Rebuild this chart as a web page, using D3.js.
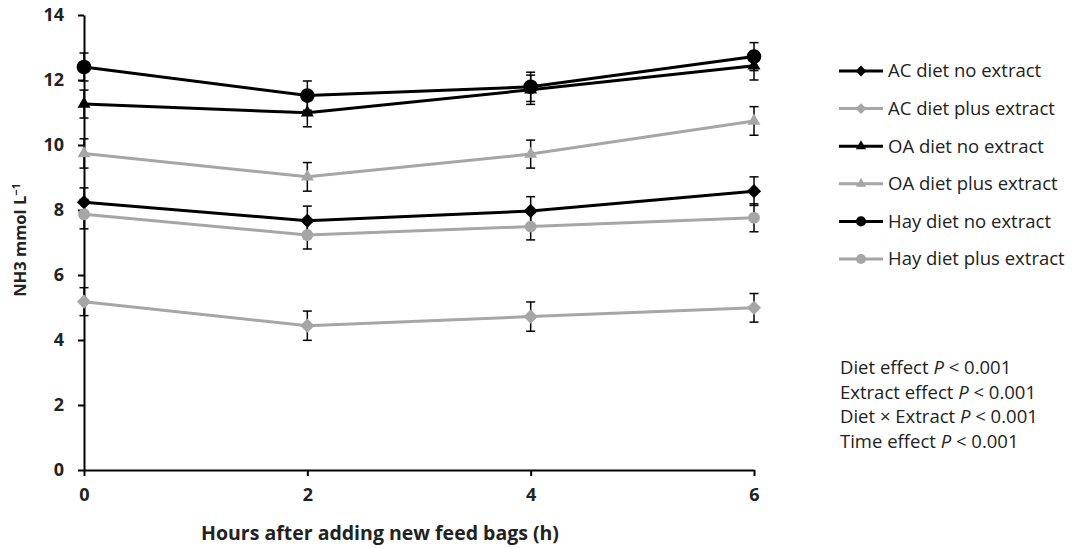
<!DOCTYPE html>
<html>
<head>
<meta charset="utf-8">
<script src="https://cdn.jsdelivr.net/npm/d3@7"></script>
<style>
  body { margin: 0; background: #fff; }
  text { font-family: "Open Sans", "DejaVu Sans", sans-serif; fill: #222; }
</style>
</head>
<body>
<div id="chart"></div>
<script>
// hours after adding feed bags
var hours = [0, 2, 4, 6];
var yTicks = [0, 2, 4, 6, 8, 10, 12, 14];

var seriesNames = ["AC diet no extract", "AC diet plus extract", "OA diet no extract",
                   "OA diet plus extract", "Hay diet no extract", "Hay diet plus extract"];
var seriesColors = ["#000000", "#a6a6a6", "#000000", "#a6a6a6", "#000000", "#a6a6a6"];
var seriesShapes = ["diamond", "diamond", "triangle", "triangle", "circle", "circle"];

// NH3 means per series (mmol/L)
var acNo    = [8.24, 7.67, 7.97, 8.58];
var acPlus  = [5.18, 4.44, 4.72, 4.99];
var oaNo    = [11.26, 10.99, 11.70, 12.44];
var oaPlus  = [9.74, 9.02, 9.72, 10.74];
var hayNo   = [12.40, 11.52, 11.79, 12.72];
var hayPlus = [7.87, 7.23, 7.49, 7.76];

// standard errors
var acNoSe    = [0.44, 0.45, 0.44, 0.44];
var acPlusSe  = [0.43, 0.45, 0.45, 0.44];
var oaNoSe    = [0.43, 0.43, 0.45, 0.44];
var oaPlusSe  = [0.45, 0.44, 0.43, 0.44];
var hayNoSe   = [0.43, 0.45, 0.45, 0.43];
var hayPlusSe = [0.45, 0.43, 0.41, 0.43];

var statLines = [["Diet effect ", "P", " < 0.001"],
                 ["Extract effect ", "P", " < 0.001"],
                 ["Diet \u00d7 Extract ", "P", " < 0.001"],
                 ["Time effect ", "P", " < 0.001"]];

var allMeans = [acNo, acPlus, oaNo, oaPlus, hayNo, hayPlus];
var allSe = [acNoSe, acPlusSe, oaNoSe, oaPlusSe, hayNoSe, hayPlusSe];

var series = seriesNames.map(function(name, i) {
  return {
    name: name, color: seriesColors[i], shape: seriesShapes[i],
    points: hours.map(function(h, j) { return {x: h, y: allMeans[i][j], se: allSe[i][j]}; })
  };
});

var W = 1077, H = 548;
var margin = {top: 15, left: 84, right: 323, bottom: 78};

var xScale = d3.scaleLinear().domain([0, 6]).range([margin.left, W - margin.right]);
var yScale = d3.scaleLinear().domain([0, 14]).range([H - margin.bottom, margin.top]);

var svg = d3.select("#chart").append("svg")
    .attr("width", W)
    .attr("height", H);

// axes
var xAxis = svg.append("g")
    .attr("transform", "translate(0," + yScale(0) + ")")
    .call(d3.axisBottom(xScale).tickValues(hours).tickFormat(d3.format("d"))
      .tickSize(6).tickPadding(12).tickSizeOuter(0));
var yAxis = svg.append("g")
    .attr("transform", "translate(" + xScale(0) + ",0)")
    .call(d3.axisLeft(yScale).tickValues(yTicks).tickFormat(d3.format("d"))
      .tickSize(6).tickPadding(14).tickSizeOuter(0));

[xAxis, yAxis].forEach(function(a) {
  a.select(".domain").attr("stroke", "#000").attr("stroke-width", 2);
  a.selectAll(".tick line").attr("stroke", "#000").attr("stroke-width", 2);
  a.selectAll(".tick text")
      .style("font-family", "'Open Sans', sans-serif")
      .style("font-size", "18px")
      .style("font-weight", "bold")
      .attr("fill", "#222");
});

// axis titles
svg.append("text")
    .attr("x", 380)
    .attr("y", 533)
    .attr("dy", "0.35em")
    .attr("text-anchor", "middle")
    .style("font-size", "19.5px")
    .style("font-weight", "bold")
    .text("Hours after adding new feed bags (h)");

var yTitle = svg.append("text")
    .attr("transform", "translate(20,240) rotate(-90)")
    .attr("text-anchor", "middle")
    .attr("dy", "0.35em")
    .style("font-size", "16.5px")
    .style("font-weight", "bold");
yTitle.append("tspan").text("NH3 mmol L");
yTitle.append("tspan").attr("dy", "-0.5em").style("font-size", "11px").text("\u22121");

var line = d3.line()
    .x(function(d) { return xScale(d.x); })
    .y(function(d) { return yScale(d.y); });

function symbolFor(shape, size) {
  var t = shape === "diamond" ? d3.symbolDiamond2 : shape === "triangle" ? d3.symbolTriangle2 : d3.symbolCircle;
  return d3.symbol().type(t).size(size)();
}

var markerSize = {diamond: 130, triangle: 120, circle: 170};

// series lines
series.forEach(function(s) {
  svg.append("path")
      .datum(s.points)
      .attr("d", line)
      .attr("fill", "none")
      .attr("stroke", s.color)
      .attr("stroke-width", 3);
});

// error bars
series.forEach(function(s) {
  var g = svg.append("g");
  s.points.forEach(function(p) {
    var x = xScale(p.x), y1 = yScale(p.y - p.se), y2 = yScale(p.y + p.se);
    g.append("line").attr("x1", x).attr("x2", x).attr("y1", y1).attr("y2", y2)
        .attr("stroke", "#000").attr("stroke-width", 1.5);
    [y1, y2].forEach(function(yy) {
      g.append("line").attr("x1", x - 4.5).attr("x2", x + 4.5).attr("y1", yy).attr("y2", yy)
          .attr("stroke", "#000").attr("stroke-width", 1.5);
    });
  });
});

// markers
series.forEach(function(s) {
  var sz = s.shape === "circle" && s.color !== "#000000" ? 110 : markerSize[s.shape];
  svg.append("g").selectAll("path")
      .data(s.points)
      .enter().append("path")
      .attr("d", symbolFor(s.shape, sz))
      .attr("transform", function(d) { return "translate(" + xScale(d.x) + "," + yScale(d.y) + ")"; })
      .attr("fill", s.color);
});

// legend
var legend = svg.append("g").attr("transform", "translate(839,71)");
series.forEach(function(s, i) {
  var row = legend.append("g").attr("transform", "translate(0," + (i * 37.6) + ")");
  row.append("line").attr("x1", 0).attr("x2", 44).attr("y1", 0).attr("y2", 0)
      .attr("stroke", s.color).attr("stroke-width", 3);
  row.append("path")
      .attr("d", symbolFor(s.shape, s.shape === "circle" ? 80 : 75))
      .attr("transform", "translate(22,0)")
      .attr("fill", s.color);
  row.append("text")
      .attr("x", 49)
      .attr("dy", "0.35em")
      .style("font-size", "18.5px")
      .text(s.name);
});

// statistics block
statLines.forEach(function(parts, i) {
  var t = svg.append("text")
      .attr("x", 840)
      .attr("y", 368 + i * 24.4)
      .attr("dy", "0.35em")
      .style("font-size", "18.5px");
  t.append("tspan").text(parts[0]);
  t.append("tspan").style("font-style", "italic").text(parts[1]);
  t.append("tspan").text(parts[2]);
});
</script>
</body>
</html>
